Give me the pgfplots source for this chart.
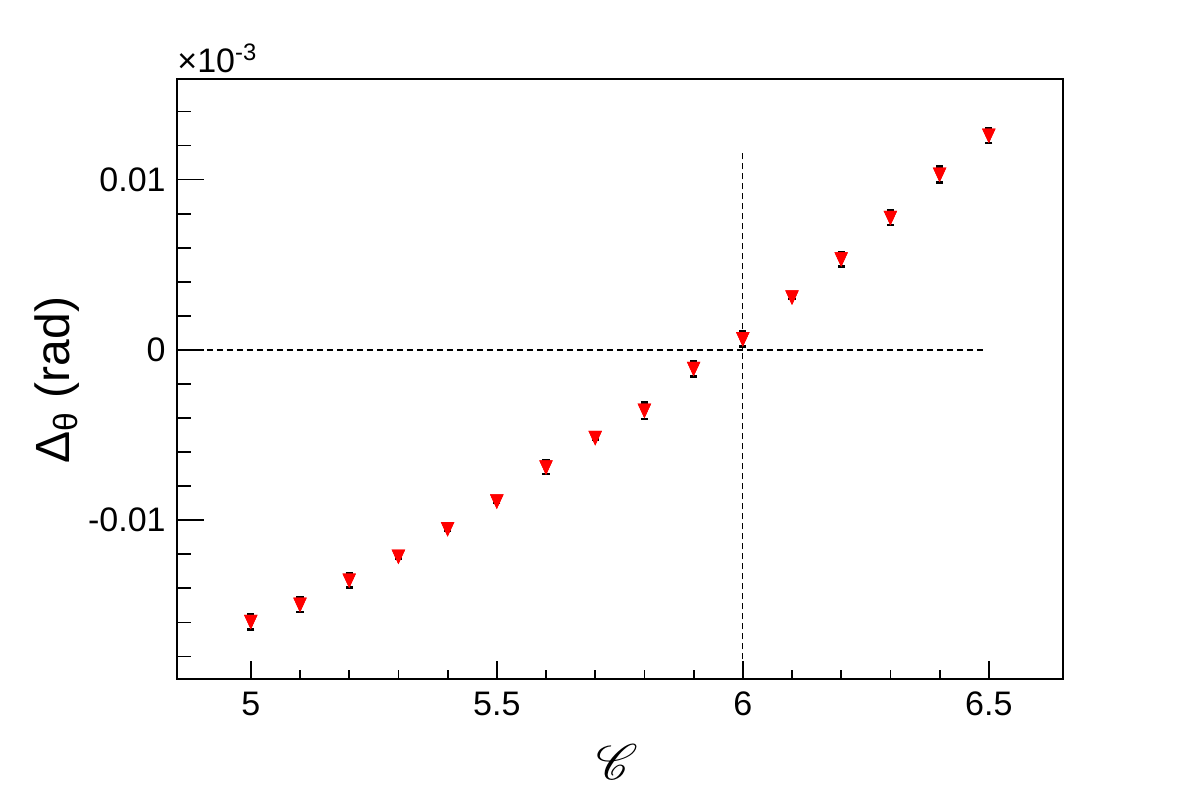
\documentclass[border=0pt]{standalone}
\usepackage{pgfplots}
\pgfplotsset{compat=1.18}
\usepackage{pgfplotstable}
\usepackage{fontspec}
\setmainfont{Liberation Sans}
\usepackage{mathrsfs}

\pgfplotstableread{
x y e
5.0 -0.01597 0.00045
5.1 -0.01496 0.00044
5.2 -0.01354 0.00041
5.3 -0.01214 0.00010
5.4 -0.01052 0.00010
5.5 -0.00890 0.00010
5.6 -0.00690 0.00040
5.7 -0.00517 0.00010
5.8 -0.00357 0.00047
5.9 -0.00111 0.00045
6.0 0.00063 0.00044
6.1 0.00308 0.00010
6.2 0.00532 0.00043
6.3 0.00775 0.00043
6.4 0.01029 0.00047
6.5 0.01258 0.00042
}\datatable

\pgfplotsset{common/.style={
  scale only axis, width=442.8pt, height=300.2pt,
  at={(0,0)}, anchor=south west,
  xmin=4.85, xmax=6.65, ymin=-0.01934, ymax=0.01591,
  axis line style={line width=1pt, black},
  tick align=inside,
  tick style={line width=0.9pt, black},
  xtick pos=left, ytick pos=left,
  scaled x ticks=false, scaled y ticks=false,
},
trimark/.style={only marks, mark=triangle*, mark size=4pt,
  mark options={yshift=1.1pt, rotate=180, xscale=0.88, yscale=1.1, fill=red, draw=red}},
}

\begin{document}
\begin{tikzpicture}
\useasboundingbox (-88.5pt,-60.35pt) rectangle (502.5pt,339.65pt);
% x ticks axis
\begin{axis}[common,
  xtick={5,5.5,6,6.5}, xticklabels={5,5.5,6,6.5},
  minor x tick num=4,
  ytick=\empty,
  major tick length=9pt, minor tick length=4.5pt,
  xticklabel style={font=\fontsize{17}{17}\selectfont, inner sep=0pt, anchor=north, yshift=-6pt},
]
\end{axis}
% y ticks + data axis
\begin{axis}[common,
  xtick=\empty,
  ytick={-0.01,0,0.01}, yticklabels={-0.01,0,0.01},
  minor ytick={-0.018,-0.016,-0.014,-0.012,-0.008,-0.006,-0.004,-0.002,0.002,0.004,0.006,0.008,0.012,0.014},
  major tick length=13.5pt, minor tick length=7pt,
  yticklabel style={font=\fontsize{17}{17}\selectfont, inner sep=0pt, anchor=east, xshift=-5.5pt},
  clip=false,
]
\addplot[black, line width=0.65pt, dash pattern=on 3pt off 2pt] coordinates {(4.85,0) (6.49,0)};
\addplot[black, line width=0.65pt, dash pattern=on 3pt off 2pt] coordinates {(6,-0.01934) (6,0.01163)};
\addplot[trimark,
  error bars/.cd, y dir=both, y explicit,
  error mark=|,
  error bar style={line width=0.7pt, black},
  error mark options={line width=1.2pt, mark size=1.8pt, black}]
  table[x=x, y=y, y error=e] {\datatable};
\addplot[trimark] table[x=x, y=y] {\datatable};
\end{axis}
\node[anchor=base west, inner sep=0pt, font=\fontsize{17}{17}\selectfont] at (0pt,303.2pt) {×10\textsuperscript{-3}};
\node[rotate=90, anchor=base, inner sep=0pt, font=\fontsize{24}{24}\selectfont] at (-53.5pt,149.7pt) {Δ\textsubscript{θ} (rad)};
\node[inner sep=0pt, font=\fontsize{24}{24}\selectfont] at (220pt,-41.35pt) {$\mathscr{C}$};
\end{tikzpicture}
\end{document}
